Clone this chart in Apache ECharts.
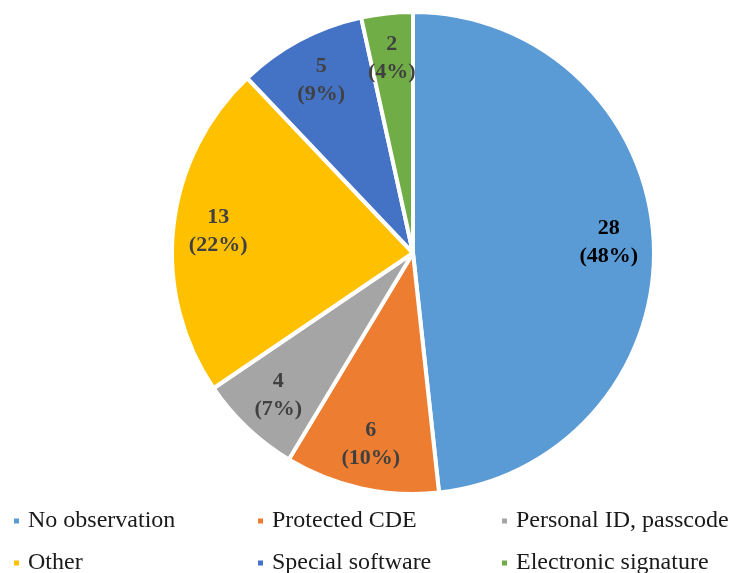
<!DOCTYPE html>
<html>
<head>
    <meta charset="utf-8">
    <title>ECharts</title>
    <script src="https://cdn.jsdelivr.net/npm/echarts@6/dist/echarts.min.js"></script>
    <style>html,body{margin:0;padding:0;background:#fff;}</style>
</head>
<body>
    <div id="main" style="width: 733px;height:573px;"></div>
    <script type="text/javascript">
        var categories = ['No observation', 'Protected CDE', 'Personal ID, passcode', 'Other', 'Special software', 'Electronic signature'];
        var counts = [28, 6, 4, 13, 5, 2];
        var percents = [48, 10, 7, 22, 9, 4];
        var colors = ['#5B9BD5', '#ED7D31', '#A5A5A5', '#FFC000', '#4472C4', '#70AD47'];
        var labelColors = ['#000000', '#404040', '#404040', '#404040', '#404040', '#404040'];

        var chart = echarts.init(document.getElementById('main'));
        var font = '"Liberation Serif", "Times New Roman", serif';

        var pieData = [];
        var labelData = [];
        for (var i = 0; i < categories.length; i++) {
            pieData.push({ name: categories[i], value: counts[i], itemStyle: { color: colors[i] } });
            labelData.push({
                name: categories[i], value: counts[i],
                label: { color: labelColors[i], formatter: counts[i] + '\n(' + percents[i] + '%)' }
            });
        }

        // legend: 2 rows x 3 columns, one legend per item
        var legendX = [12, 256, 500];
        var legendY = [508, 550];
        var legends = [];
        for (var k = 0; k < categories.length; k++) {
            legends.push({
                left: legendX[k % 3], top: legendY[Math.floor(k / 3)], padding: 0,
                itemWidth: 7, itemHeight: 7, icon: 'rect',
                data: [categories[k]],
                textStyle: { fontFamily: font, fontSize: 24, lineHeight: 26, color: '#1a1a1a', padding: [0, 0, 0, 3] }
            });
        }

        var option = {
            animation: false,
            color: colors,
            legend: legends,
            series: [
                {
                    type: 'pie', center: [413, 253], radius: [0, 241],
                    startAngle: 90, clockwise: true,
                    itemStyle: { borderColor: '#fff', borderWidth: 4 },
                    label: { show: false }, labelLine: { show: false },
                    emphasis: { disabled: true },
                    data: pieData
                },
                {
                    type: 'pie', center: [413, 253], radius: [145, 241],
                    startAngle: 90, clockwise: true, silent: true,
                    itemStyle: { color: 'transparent' },
                    label: {
                        show: true, position: 'inside',
                        fontFamily: font, fontSize: 22, fontWeight: 'bold', lineHeight: 28
                    },
                    labelLine: { show: false },
                    data: labelData
                }
            ]
        };
        chart.setOption(option);
    </script>
</body>
</html>
